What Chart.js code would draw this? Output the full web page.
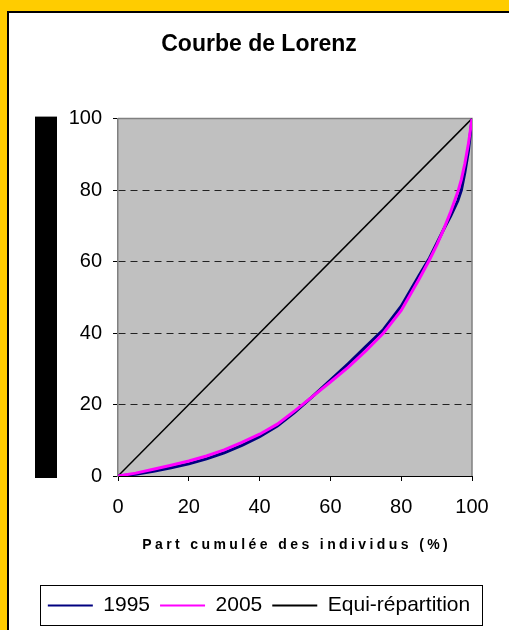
<!DOCTYPE html>
<html>
<head>
<meta charset="utf-8">
<script src="https://cdn.jsdelivr.net/npm/chart.js@4.4.1/dist/chart.umd.min.js"></script>
<style>
  html, body { margin: 0; padding: 0; background: #FFCC00; width: 509px; height: 630px; overflow: hidden; }
  #frame { position: absolute; left: 7px; top: 11px; width: 500px; height: 617px;
           border-left: 2px solid #000; border-top: 2px solid #000; background: #fff; }
  canvas { display: block; }
</style>
</head>
<body>
<div id="frame"><canvas id="lorenz" width="500" height="617"></canvas></div>
<script>
// Part cumulée des individus (%)
const popShare = [0, 5, 10, 15, 20, 25, 30, 35, 40, 45, 50, 55, 60, 65, 70, 75, 80, 85, 88, 90, 92, 94, 96, 97, 98, 99, 100];
// Part cumulée des revenus (%)
const income1995 = [0, 0.5, 1.3, 2.3, 3.4, 4.8, 6.5, 8.6, 11.0, 14.0, 17.9, 22.3, 26.8, 31.4, 36.2, 41.0, 47.5, 56.0, 61.0, 65.0, 69.0, 72.8, 77.0, 80.0, 85.0, 91.0, 100];
const income2005 = [0, 0.8, 1.9, 3.0, 4.2, 5.6, 7.3, 9.4, 11.7, 14.5, 18.3, 22.3, 26.3, 30.4, 35.0, 40.0, 46.3, 55.0, 60.5, 64.5, 69.0, 74.0, 79.5, 83.0, 87.5, 93.0, 100];
const equiX = [0, 100];
const equiY = [0, 100];

const chartTitle = "Courbe de Lorenz";
const xTitle = "Part cumulée des individus (%)";

const toPoints = (xs, ys) => xs.map((x, i) => ({ x: x, y: ys[i] }));

Chart.defaults.font.family = "'Liberation Sans', Arial, sans-serif";
Chart.defaults.color = "#000";

const plotDecor = {
  id: "plotDecor",
  beforeDraw(chart) {
    const { ctx, chartArea: a } = chart;
    ctx.save();
    ctx.fillStyle = "#C0C0C0";
    ctx.fillRect(a.left, a.top, a.right - a.left, a.bottom - a.top);
    // black bar on the left
    ctx.fillStyle = "#000";
    ctx.fillRect(a.left - 83, a.top - 2, 22, a.bottom - a.top + 4);
    ctx.restore();
  },
  beforeDatasetsDraw(chart) {
    const { ctx, chartArea: a } = chart;
    ctx.save();
    ctx.strokeStyle = "#808080";
    ctx.lineWidth = 1.5;
    ctx.beginPath();
    ctx.moveTo(a.left, a.top);
    ctx.lineTo(a.right, a.top);
    ctx.lineTo(a.right, a.bottom);
    ctx.stroke();
    ctx.restore();
  },
  afterDraw(chart) {
    const { ctx, chartArea: a } = chart;
    ctx.save();
    // x axis title, spaced letters
    ctx.font = "bold 14px 'Liberation Sans', Arial, sans-serif";
    ctx.letterSpacing = "3.4px";
    ctx.fillStyle = "#000";
    ctx.textBaseline = "middle";
    ctx.textAlign = "left";
    const w = ctx.measureText(xTitle).width - 3.4;
    ctx.fillText(xTitle, (a.left + a.right) / 2 - w / 2, a.bottom + 69);
    ctx.restore();

    // box round the legend
    const boxes = chart.legend.legendHitBoxes;
    if (boxes && boxes.length) {
      const first = boxes[0], last = boxes[boxes.length - 1];
      ctx.save();
      ctx.strokeStyle = "#000";
      ctx.lineWidth = 1;
      const l = Math.round(first.left - 8) + 0.5;
      const r = Math.round(last.left + last.width + 12) + 0.5;
      const t = Math.round(chart.legend.top) + 0.5;
      const b = Math.round(chart.legend.bottom) - 0.5;
      ctx.strokeRect(l, t, r - l, b - t);
      ctx.restore();
    }
  }
};

new Chart(document.getElementById("lorenz"), {
  type: "line",
  data: {
    datasets: [
      {
        label: "1995",
        data: toPoints(popShare, income1995),
        borderColor: "#000080",
        borderWidth: 3,
        order: 1
      },
      {
        label: "2005",
        data: toPoints(popShare, income2005),
        borderColor: "#FF00FF",
        borderWidth: 3,
        order: 0
      },
      {
        label: "Equi-répartition",
        data: toPoints(equiX, equiY),
        borderColor: "#000",
        borderWidth: 1.5,
        order: 2
      }
    ]
  },
  options: {
    responsive: false,
    animation: false,
    layout: { padding: { left: 0, right: 0, top: 0, bottom: 4 } },
    elements: { point: { radius: 0 }, line: { tension: 0 } },
    scales: {
      x: {
        type: "linear",
        min: 0,
        max: 100,
        ticks: { stepSize: 20, padding: 14, font: { size: 20 } },
        grid: { drawOnChartArea: false, tickLength: 5, tickColor: "#000" },
        border: { color: "#000", width: 1 },
        afterFit: (s) => { s.height = 109; }
      },
      y: {
        min: 0,
        max: 100,
        ticks: { stepSize: 20, padding: 11, font: { size: 20 } },
        grid: {
          color: (c) => (c.tick && c.tick.value > 0 && c.tick.value < 100 ? "#222" : "rgba(0,0,0,0)"),
          tickColor: "#000",
          tickLength: 5,
          lineWidth: 1
        },
        border: { color: "#808080", width: 1.5, dash: [7, 5] },
        afterFit: (s) => { s.width = 109; }
      },
      // empty right margin so title and legend stay centred on the full width
      yPad: {
        position: "right",
        min: 0,
        max: 100,
        ticks: { display: false },
        grid: { display: false },
        border: { display: false },
        afterFit: (s) => { s.width = 37; }
      }
    },
    plugins: {
      title: {
        display: true,
        text: chartTitle,
        font: { size: 23, weight: "bold" },
        padding: { top: 18, bottom: 60 }
      },
      legend: {
        position: "bottom",
        maxHeight: 42,
        labels: {
          usePointStyle: true,
          pointStyle: "line",
          pointStyleWidth: 45,
          padding: 10,
          font: { size: 21 },
          sort: (a, b) => a.datasetIndex - b.datasetIndex,
          generateLabels: (chart) =>
            Chart.defaults.plugins.legend.labels.generateLabels(chart).map((l) => ({ ...l, lineWidth: 2 }))
        }
      },
      tooltip: { enabled: false }
    }
  },
  plugins: [plotDecor]
});
</script>
</body>
</html>
